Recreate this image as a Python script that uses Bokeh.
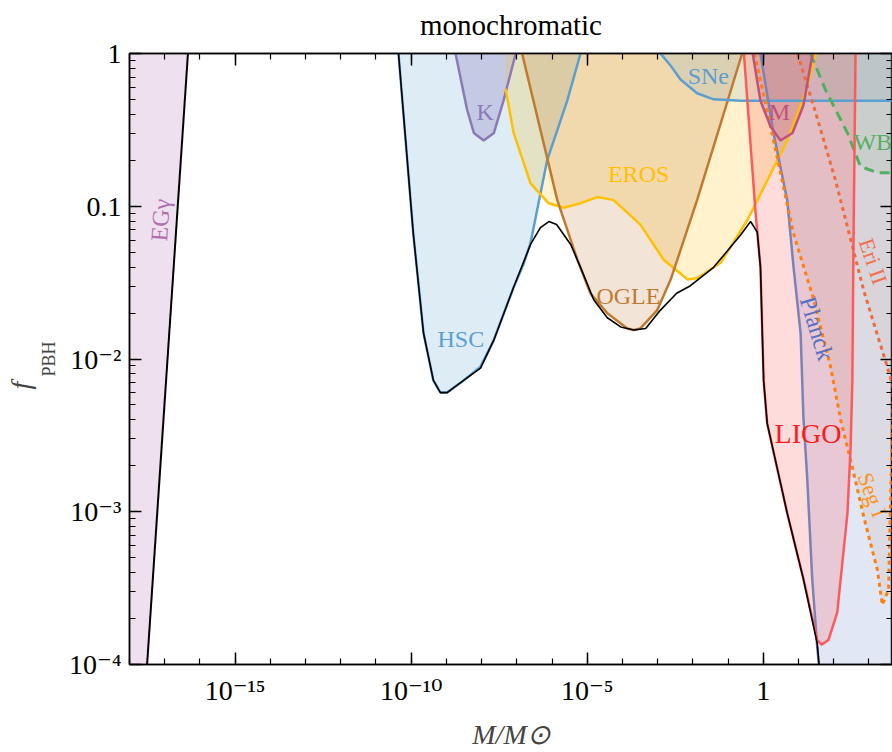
import numpy as np
from bokeh.plotting import figure
from bokeh.models import Range1d, FixedTicker, LogAxis, Title
from bokeh.core.properties import value
from bokeh.embed import file_html
from bokeh.resources import INLINE

# ---------------- data (log10 M/Msun , log10 f_PBH) ----------------
egg_lm = [-17.5, -16.34]
egg_lf = [-4.0, 0.0]

hsc_lm = [-10.36, -9.94, -9.65, -9.37, -9.17, -8.98, -8.51, -8.03, -7.66, -7.09, -6.81, -6.61, -6.14, -5.57, -5.19]
hsc_lf = [0.0, -1.18, -1.83, -2.14, -2.22, -2.22, -2.14, -2.05, -1.88, -1.53, -1.38, -1.24, -0.70, -0.31, 0.0]

k_lm = [-8.74, -8.41, -8.22, -7.94, -7.65, -7.38, -7.03]
k_lf = [0.0, -0.37, -0.52, -0.57, -0.52, -0.31, 0.0]

eros_lm = [-7.32, -7.32, -7.09, -6.61, -6.1, -5.67, -5.19, -4.71, -4.25, -3.49, -2.83, -2.15, -1.87, -1.21, -0.45, 0.40, 0.68, 1.25, 1.49]
eros_lf = [0.0, -0.23, -0.52, -0.85, -0.98, -1.01, -0.98, -0.94, -0.96, -1.12, -1.35, -1.48, -1.47, -1.37, -1.09, -0.70, -0.57, -0.22, 0.0]

ogle_lm = [-6.85, -5.85, -5.28, -4.91, -4.43, -3.86, -3.68, -3.49, -3.01, -2.63, -1.88, -0.60]
ogle_lf = [0.0, -0.96, -1.35, -1.57, -1.70, -1.80, -1.81, -1.80, -1.68, -1.48, -0.96, 0.0]

sne_lm = [-2.92, -2.63, -2.35, -1.88, -1.41, -0.64, 4.2]
sne_lf = [0.0, -0.08, -0.17, -0.26, -0.30, -0.31, -0.31]

ligo_lm = [-0.55, -0.22, -0.08, 0.01, 0.11, 0.68, 1.14, 1.53, 1.66, 1.85, 2.10, 2.39, 2.48, 2.53, 2.56, 2.62]
ligo_lf = [0.0, -1.04, -1.40, -2.14, -2.42, -3.01, -3.44, -3.84, -3.87, -3.84, -3.66, -3.01, -2.58, -2.14, -1.29, 0.0]

m_lm = [-0.30, -0.08, 0.21, 0.49, 0.83, 1.14, 1.40]
m_lf = [0.0, -0.31, -0.48, -0.57, -0.52, -0.34, 0.0]

planck_lm = [-0.08, 0.29, 0.68, 0.86, 1.06, 1.14, 1.25, 1.39, 1.53, 1.62]
planck_lf = [0.0, -0.52, -0.96, -1.40, -1.83, -2.38, -2.79, -3.44, -3.88, -4.1]

segi_lm = [-0.25, 0.21, 0.86, 1.43, 1.91, 2.20, 2.53, 2.85, 3.24, 3.38, 3.56, 3.59, 3.65, 3.76, 3.9]
segi_lf = [0.0, -0.48, -1.18, -1.61, -2.05, -2.40, -2.71, -3.03, -3.38, -3.61, -3.51, -3.18, -2.59, -1.61, 0.0]

eri_lm = [0.97, 1.49, 2.05, 2.54, 2.85, 3.13, 3.52, 3.67, 3.9]
eri_lf = [0.0, -0.39, -0.83, -1.27, -1.55, -1.76, -2.05, -2.17, -2.33]

wb_lm = [1.34, 1.77, 2.39, 2.76, 3.24, 3.67, 3.9]
wb_lf = [0.0, -0.24, -0.52, -0.74, -0.78, -0.78, -0.72]

comb_lm = [-10.36, -9.94, -9.65, -9.37, -9.17, -8.98, -8.51, -8.03, -7.66, -7.09, -6.61, -6.33, -6.09,
           -5.87, -5.47, -5.19, -4.82, -4.43, -4.05, -3.68, -3.34, -2.92, -2.46, -2.07, -1.41, -0.65,
           -0.36, -0.17, -0.08, 0.01, 0.11, 0.68, 1.14, 1.53, 1.62]
comb_lf = [0.0, -1.18, -1.83, -2.14, -2.22, -2.22, -2.14, -2.06, -1.88, -1.53, -1.25, -1.14, -1.10,
           -1.12, -1.25, -1.40, -1.61, -1.73, -1.79, -1.81, -1.80, -1.68, -1.57, -1.52, -1.40, -1.19,
           -1.10, -1.17, -1.40, -2.14, -2.42, -3.01, -3.44, -3.86, -4.1]

# constraint labels: name, log10 M, log10 f, colour, angle (deg), size
lab_names = ["EGγ", "HSC", "K", "EROS", "SNe", "M", "WB", "OGLE", "Planck", "Eri II", "LIGO", "Seg I"]
lab_lm = [-17.12, -8.59, -7.90, -3.54, -1.56, 0.46, 3.11, -3.83, 1.52, 3.12, 1.27, 3.10]
lab_lf = [-1.09, -1.87, -0.38, -0.79, -0.15, -0.38, -0.58, -1.59, -1.80, -1.36, -2.49, -2.89]
lab_col = ["#b070b0", "#5a9fd0", "#8a7ab8", "#ffc000", "#5a9fd0", "#c05080", "#50b060", "#c07a30",
           "#5a70c0", "#f07050", "#ff1a1a", "#ff9020"]
lab_ang = [86, 0, 0, 0, 0, 0, 0, 0, -73, -71, 0, -69]
lab_size = ["24px"] * 9 + ["22px", "28px", "22px"]

x_major = [1e-15, 1e-10, 1e-5, 1.0]
x_major_labels = ["10⁻¹⁵", "10⁻¹⁰", "10⁻⁵", "1"]
x_minor = [10.0 ** k for k in range(-18, 4)]
y_major = [1e-4, 1e-3, 1e-2, 1e-1, 1.0]
y_major_labels = ["10⁻⁴", "10⁻³", "10⁻²", "0.1", "1"]
y_minor = [m * 10.0 ** k for k in range(-4, 0) for m in range(2, 10)]

FONT = "Liberation Serif"
TICKFONT = "Liberation Serif, DejaVu Serif"

p = figure(width=892, height=752, x_axis_type="log", y_axis_type="log", title=None,
           x_range=Range1d(1e-18, 10 ** 3.67), y_range=Range1d(1e-4, 1.0),
           output_backend="svg", toolbar_location=None,
           min_border_left=129, min_border_right=0, min_border_top=53, min_border_bottom=87)
p.grid.visible = False
p.outline_line_color = "black"
p.outline_line_width = 1.5


def L(a):
    return 10.0 ** np.asarray(a, dtype=float)


def style_axis(ax, ticks, minor, labels=None):
    ax.ticker = FixedTicker(ticks=ticks, minor_ticks=minor)
    ax.major_tick_in = 12
    ax.major_tick_out = 0
    ax.minor_tick_in = 6
    ax.minor_tick_out = 0
    ax.axis_line_width = 1.5
    ax.major_tick_line_width = 1.5
    ax.minor_tick_line_width = 1.2
    ax.major_label_text_font = TICKFONT
    ax.major_label_text_color = "black"
    if labels is None:
        ax.major_label_text_font_size = "1px"
        ax.major_label_text_color = None
        ax.major_label_standoff = 0
    else:
        ax.major_label_text_font_size = "28px"
        ax.major_label_overrides = {t: s for t, s in zip(ticks, labels)}


xa = p.xaxis[0]
style_axis(xa, x_major, x_minor, x_major_labels)
xa.major_label_standoff = 10
xa.axis_label = "M/M⊙"
xa.axis_label_text_font = FONT
xa.axis_label_text_font_size = "28px"
xa.axis_label_text_font_style = "italic"
xa.axis_label_standoff = 10

ya = p.yaxis[0]
style_axis(ya, y_major, y_minor, y_major_labels)
ya.major_label_standoff = 8
ya.axis_label = "PBH"
ya.axis_label_text_font = FONT
ya.axis_label_text_font_size = "18px"
ya.axis_label_text_font_style = "normal"
ya.axis_label_standoff = 7

# top axis carries the chart title as its label
top = LogAxis()
style_axis(top, x_major, x_minor)
top.axis_label = "monochromatic"
top.axis_label_text_font = FONT
top.axis_label_text_font_size = "29px"
top.axis_label_text_font_style = "normal"
top.axis_label_text_color = "black"
top.axis_label_standoff = 13
p.add_layout(top, "above")
right = LogAxis()
style_axis(right, y_major, y_minor)
p.add_layout(right, "right")

p.add_layout(Title(text="f", align="left", offset=275, vertical_align="bottom", standoff=0,
                   text_font=FONT, text_font_size="28px", text_font_style="italic"), "left")

# ---------------- fills ----------------
p.patch(L([-18.5] + egg_lm + [-18.5]), L([-4.5] + egg_lf + [0.0]),
        fill_color="#b070b0", fill_alpha=0.22, line_color=None)
p.patch(L(hsc_lm), L(hsc_lf), fill_color="#5a9fd0", fill_alpha=0.2, line_color=None)
p.patch(L(k_lm), L(k_lf), fill_color="#8a7ab8", fill_alpha=0.3, line_color=None)
p.patch(L(eros_lm), L(eros_lf), fill_color="#ffc000", fill_alpha=0.2, line_color=None)
p.patch(L(ogle_lm), L(ogle_lf), fill_color="#c07a30", fill_alpha=0.2, line_color=None)
p.patch(L(sne_lm + [4.2]), L(sne_lf + [0.0]), fill_color="#5a9fd0", fill_alpha=0.15, line_color=None)
p.patch(L(planck_lm + [4.2, 4.2]), L(planck_lf + [-4.1, 0.0]), fill_color="#5a78c8", fill_alpha=0.18, line_color=None)
p.patch(L(segi_lm), L(segi_lf), fill_color="#c08060", fill_alpha=0.12, line_color=None)
p.patch(L(eri_lm + [4.2, 4.2]), L(eri_lf + [-2.4, 0.0]), fill_color="#c08070", fill_alpha=0.08, line_color=None)
p.patch(L(wb_lm + [4.2, 4.2]), L(wb_lf + [-0.72, 0.0]), fill_color="#50b060", fill_alpha=0.1, line_color=None)
p.patch(L(ligo_lm), L(ligo_lf), fill_color="#ff5050", fill_alpha=0.2, line_color=None)
p.patch(L(m_lm), L(m_lf), fill_color="#c05080", fill_alpha=0.22, line_color=None)

# ---------------- lines ----------------
p.line(L(hsc_lm), L(hsc_lf), line_color="#5a9fd0", line_width=2.5)
p.line(L(k_lm), L(k_lf), line_color="#8a7ab8", line_width=2.5)
p.line(L(eros_lm[1:]), L(eros_lf[1:]), line_color="#ffc000", line_width=2.5)
p.line(L(ogle_lm), L(ogle_lf), line_color="#c07a30", line_width=2.5)
p.line(L(sne_lm), L(sne_lf), line_color="#5a9fd0", line_width=2.5)
p.line(L(planck_lm), L(planck_lf), line_color="#7a82b8", line_width=2.5)
p.line(L(segi_lm), L(segi_lf), line_color="#ff7f0e", line_width=3, line_dash="4 4")
p.line(L(eri_lm), L(eri_lf), line_color="#f06a3a", line_width=3, line_dash="4 4")
p.line(L(wb_lm), L(wb_lf), line_color="#50b060", line_width=3, line_dash="10 6")
p.line(L(ligo_lm), L(ligo_lf), line_color="#ff5a5a", line_width=2.5)
p.line(L(m_lm), L(m_lf), line_color="#c05080", line_width=2.5)
p.line(L(comb_lm), L(comb_lf), line_color="black", line_width=1.6)
p.line(L(egg_lm), L(egg_lf), line_color="black", line_width=2)

# ---------------- constraint labels ----------------
p.text(x=L(lab_lm), y=L(lab_lf), text=lab_names, text_color=lab_col,
       angle=np.radians(lab_ang), text_font=value(FONT), text_font_size=lab_size,
       text_align="center", text_baseline="middle")

open("out.html", "w").write(file_html(p, INLINE))
